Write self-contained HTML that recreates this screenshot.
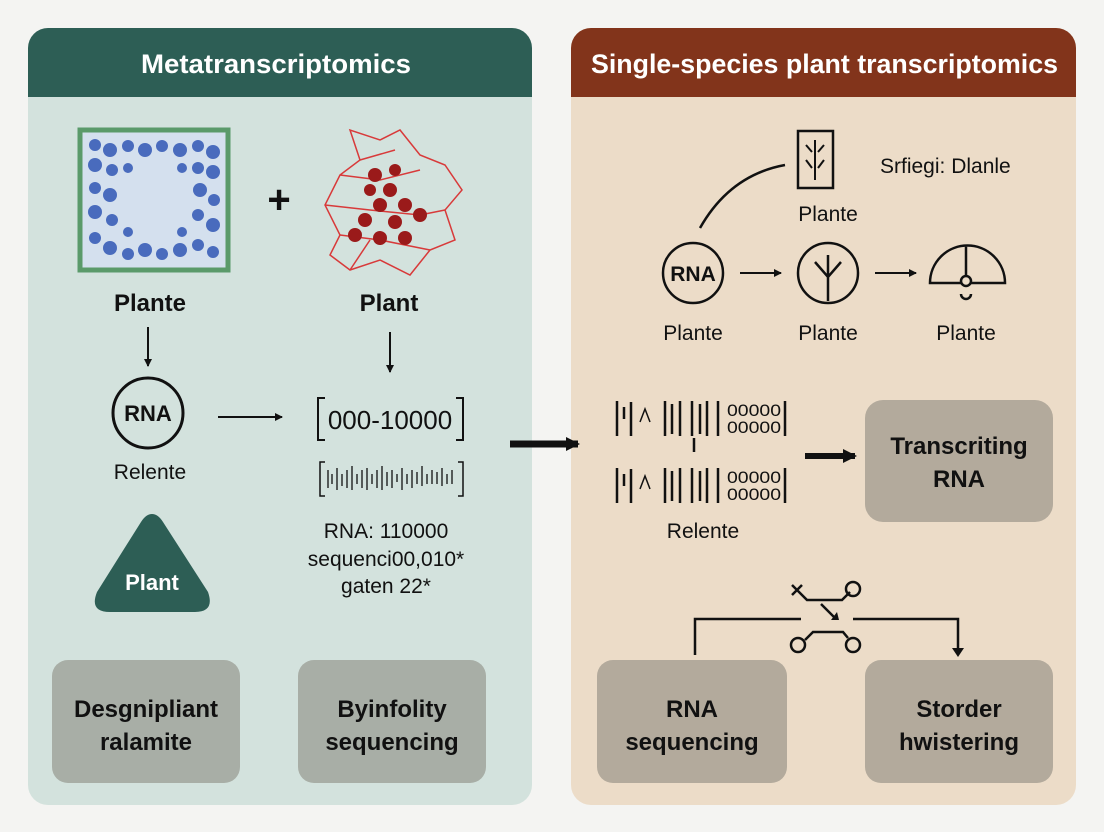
<!DOCTYPE html>
<html><head><meta charset="utf-8"><style>
html,body{margin:0;padding:0;background:#f4f4f2;}
svg{display:block;font-family:"Liberation Sans",sans-serif;}
</style></head><body>
<svg width="1104" height="832" viewBox="0 0 1104 832" xmlns="http://www.w3.org/2000/svg">
<defs>
<clipPath id="cl"><rect x="28" y="28" width="504" height="777" rx="20"/></clipPath>
<clipPath id="cr"><rect x="571" y="28" width="505" height="777" rx="20"/></clipPath>
<marker id="ah" markerWidth="8" markerHeight="8" refX="7" refY="4" orient="auto" markerUnits="userSpaceOnUse"><path d="M0,0 L8,4 L0,8 Z" fill="#111"/></marker>
<marker id="ahb" markerWidth="14" markerHeight="14" refX="12" refY="7" orient="auto" markerUnits="userSpaceOnUse"><path d="M0,0 L14,7 L0,14 Z" fill="#111"/></marker>
</defs>
<g clip-path="url(#cl)"><rect x="28" y="28" width="504" height="777" fill="#d3e2dd"/><rect x="28" y="28" width="504" height="69" fill="#2d5e55"/></g>
<g clip-path="url(#cr)"><rect x="571" y="28" width="505" height="777" fill="#ecdcc8"/><rect x="571" y="28" width="505" height="69" fill="#82341b"/></g>
<text x="141" y="73" fill="#fff" font-size="27" font-weight="bold" textLength="270" lengthAdjust="spacingAndGlyphs">Metatranscriptomics</text>
<text x="591" y="73" fill="#fff" font-size="27" font-weight="bold" textLength="467" lengthAdjust="spacingAndGlyphs">Single-species plant transcriptomics</text>

<!-- cell -->
<rect x="80" y="130" width="148" height="140" fill="#d4e0ee" stroke="#5a9a6a" stroke-width="5"/>
<g fill="#3a5fb8" opacity="0.9">
<circle cx="95" cy="145" r="6"/><circle cx="110" cy="150" r="7"/><circle cx="128" cy="146" r="6"/><circle cx="145" cy="150" r="7"/><circle cx="162" cy="146" r="6"/><circle cx="180" cy="150" r="7"/><circle cx="198" cy="146" r="6"/><circle cx="213" cy="152" r="7"/>
<circle cx="95" cy="165" r="7"/><circle cx="112" cy="170" r="6"/><circle cx="198" cy="168" r="6"/><circle cx="213" cy="172" r="7"/>
<circle cx="95" cy="188" r="6"/><circle cx="110" cy="195" r="7"/><circle cx="200" cy="190" r="7"/><circle cx="214" cy="200" r="6"/>
<circle cx="95" cy="212" r="7"/><circle cx="112" cy="220" r="6"/><circle cx="198" cy="215" r="6"/><circle cx="213" cy="225" r="7"/>
<circle cx="95" cy="238" r="6"/><circle cx="110" cy="248" r="7"/><circle cx="128" cy="254" r="6"/><circle cx="145" cy="250" r="7"/><circle cx="162" cy="254" r="6"/><circle cx="180" cy="250" r="7"/><circle cx="198" cy="245" r="6"/><circle cx="213" cy="252" r="6"/>
<circle cx="128" cy="232" r="5"/><circle cx="182" cy="232" r="5"/><circle cx="128" cy="168" r="5"/><circle cx="182" cy="168" r="5"/>
</g>
<text x="279" y="213" font-size="40" font-weight="bold" text-anchor="middle" fill="#111">+</text>
<!-- molecule -->
<g fill="none" stroke="#d83a3a" stroke-width="1.5">
<path d="M350,130 L360,160 L340,175 L325,205 L340,235 L330,255 L350,270 L380,260 L410,275 L430,250 L455,240 L445,210 L462,190 L445,165 L420,155 L400,130 L380,140 Z"/>
<path d="M340,175 L380,180 L420,170 M325,205 L370,210 L420,215 L445,210 M340,235 L380,240 L430,250 M360,160 L395,150 M350,270 L370,240"/>
</g>
<g fill="#9a1a1a"><circle cx="375" cy="175" r="7"/><circle cx="390" cy="190" r="7"/><circle cx="405" cy="205" r="7"/><circle cx="380" cy="205" r="7"/><circle cx="365" cy="220" r="7"/><circle cx="395" cy="222" r="7"/><circle cx="420" cy="215" r="7"/><circle cx="355" cy="235" r="7"/><circle cx="380" cy="238" r="7"/><circle cx="405" cy="238" r="7"/><circle cx="370" cy="190" r="6"/><circle cx="395" cy="170" r="6"/></g>

<g font-size="24" font-weight="bold" fill="#111" text-anchor="middle"><text x="150" y="311">Plante</text><text x="389" y="311">Plant</text></g>
<line x1="148" y1="327" x2="148" y2="366" stroke="#111" stroke-width="2" marker-end="url(#ah)"/>
<line x1="390" y1="332" x2="390" y2="372" stroke="#111" stroke-width="2" marker-end="url(#ah)"/>
<circle cx="148" cy="413" r="35" fill="none" stroke="#111" stroke-width="3"/>
<text x="148" y="421" font-size="22" font-weight="bold" text-anchor="middle" fill="#111">RNA</text>
<text x="150" y="479" font-size="21" text-anchor="middle" fill="#111">Relente</text>
<line x1="218" y1="417" x2="282" y2="417" stroke="#111" stroke-width="2" marker-end="url(#ah)"/>
<text x="390" y="429" font-size="26" text-anchor="middle" fill="#111">000-10000</text>
<path d="M325,398 h-7 v42 h7 M456,398 h7 v42 h-7" fill="none" stroke="#111" stroke-width="2"/>
<path d="M325,462 h-5 v34 h5 M458,462 h5 v34 h-5" fill="none" stroke="#111" stroke-width="1.5"/>
<g stroke="#111" stroke-width="1.3">
<path d="M328,470v18M332,474v10M337,468v22M342,474v12M347,470v18M352,466v24M357,474v10M362,470v18M367,468v22M372,474v10M377,470v18M382,466v24M387,472v14M392,470v18M397,474v8M402,468v22M407,474v10M412,470v18M417,472v12M422,466v20M427,474v10M432,470v14M437,472v12M442,468v18M447,474v10M452,470v14"/></g>
<g font-size="21" text-anchor="middle" fill="#111"><text x="386" y="538">RNA: 110000</text><text x="386" y="566">sequenci00,010*</text><text x="386" y="593">gaten 22*</text></g>
<path d="M152,514 Q158,514 163,522 L208,592 Q215,612 195,612 L110,612 Q89,612 97,592 L141,522 Q146,514 152,514 Z" fill="#2d5e55"/>
<text x="152" y="590" font-size="22" font-weight="bold" text-anchor="middle" fill="#fff">Plant</text>
<rect x="52" y="660" width="188" height="123" rx="16" fill="#a8aea6"/>
<rect x="298" y="660" width="188" height="123" rx="16" fill="#a8aea6"/>
<g font-size="24" font-weight="bold" text-anchor="middle" fill="#111">
<text x="146" y="717">Desgnipliant</text><text x="146" y="750">ralamite</text>
<text x="392" y="717">Byinfolity</text><text x="392" y="750">sequencing</text>
</g>
<!-- big arrow -->
<line x1="510" y1="444" x2="578" y2="444" stroke="#111" stroke-width="7" marker-end="url(#ahb)"/>

<!-- right -->
<rect x="798" y="131" width="35" height="57" fill="none" stroke="#111" stroke-width="2.5"/>
<path d="M815,140v40 M806,145l6,7 M824,145l-6,7 M806,160l6,8 M824,160l-6,8" stroke="#111" stroke-width="2" fill="none"/>
<text x="880" y="173" font-size="21" fill="#111">Srfiegi: Dlanle</text>
<text x="828" y="221" font-size="21" text-anchor="middle" fill="#111">Plante</text>
<path d="M700,228 Q730,175 785,165" fill="none" stroke="#111" stroke-width="2.5"/>
<circle cx="693" cy="273" r="30" fill="none" stroke="#111" stroke-width="2.5"/>
<text x="693" y="281" font-size="21" font-weight="bold" text-anchor="middle" fill="#111">RNA</text>
<line x1="740" y1="273" x2="781" y2="273" stroke="#111" stroke-width="2" marker-end="url(#ah)"/>
<circle cx="828" cy="273" r="30" fill="none" stroke="#111" stroke-width="2.5"/>
<path d="M828,255v46 M815,262l13,15l13,-15" fill="none" stroke="#111" stroke-width="2.5"/>
<line x1="875" y1="273" x2="916" y2="273" stroke="#111" stroke-width="2" marker-end="url(#ah)"/>
<path d="M930,283 A37,37 0 0 1 1005,283 Z M966,246v32" fill="none" stroke="#111" stroke-width="2.5"/>
<circle cx="966" cy="281" r="5" fill="#ecdcc8" stroke="#111" stroke-width="2.5"/>
<path d="M961,294 a5,5 0 0 0 10,0" fill="none" stroke="#111" stroke-width="2.5"/>
<g font-size="21" text-anchor="middle" fill="#111"><text x="693" y="340">Plante</text><text x="828" y="340">Plante</text><text x="966" y="340">Plante</text></g>
<g stroke="#111" stroke-width="2.5" fill="none">
<path d="M617,401v35M624,407v12M631,402v34M665,401v35M672,404v30M680,401v35M692,401v35M700,404v30M707,401v35M718,401v35M785,401v35 M694,438v14"/>
<path d="M617,468v35M624,474v12M631,469v34M665,468v35M672,471v30M680,468v35M692,468v35M700,471v30M707,468v35M718,468v35M785,468v35"/>
<path d="M640,422l5,-13l5,13M640,489l5,-13l5,13" stroke-width="1.5"/>
</g>
<g font-size="17" fill="#111"><text x="727" y="416" textLength="54" lengthAdjust="spacingAndGlyphs">00000</text><text x="727" y="433" textLength="54" lengthAdjust="spacingAndGlyphs">00000</text><text x="727" y="483" textLength="54" lengthAdjust="spacingAndGlyphs">00000</text><text x="727" y="500" textLength="54" lengthAdjust="spacingAndGlyphs">00000</text></g>
<text x="703" y="538" font-size="21" text-anchor="middle" fill="#111">Relente</text>
<line x1="805" y1="456" x2="855" y2="456" stroke="#111" stroke-width="6" marker-end="url(#ahb)"/>
<rect x="865" y="400" width="188" height="122" rx="18" fill="#b3aa9c"/>
<g font-size="24" font-weight="bold" text-anchor="middle" fill="#111"><text x="959" y="454">Transcriting</text><text x="959" y="487">RNA</text></g>
<!-- switch -->
<g fill="none" stroke="#111" stroke-width="2.5">
<path d="M695,655v-36h106 M853,619h105v30"/>
<path d="M792,585l10,10 M802,585l-10,10 M797,590l10,10h35l8,-8"/>
<circle cx="853" cy="589" r="7"/><circle cx="798" cy="645" r="7"/><circle cx="853" cy="645" r="7"/>
<path d="M805,640l8,-8h30l5,6"/>
<path d="M821,604l14,14"/>
</g>
<path d="M831,620l8,0l-2,-8z" fill="#111"/>
<path d="M952,648h12l-6,9z" fill="#111"/>
<rect x="597" y="660" width="190" height="123" rx="16" fill="#b3aa9c"/>
<rect x="865" y="660" width="188" height="123" rx="16" fill="#b3aa9c"/>
<g font-size="24" font-weight="bold" text-anchor="middle" fill="#111">
<text x="692" y="717">RNA</text><text x="692" y="750">sequencing</text>
<text x="959" y="717">Storder</text><text x="959" y="750">hwistering</text>
</g>
</svg>
</body></html>
